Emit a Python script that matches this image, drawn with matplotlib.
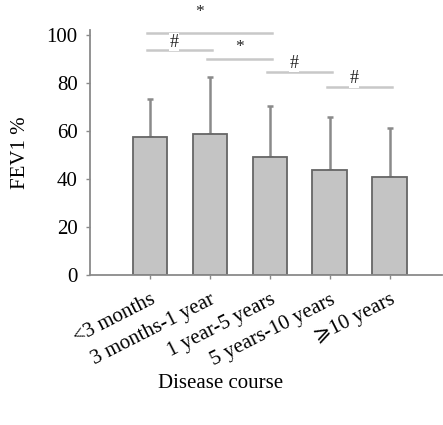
import matplotlib
matplotlib.use('Agg')
import matplotlib.pyplot as plt

# data
categories = ['<3 months', '3 months-1 year', '1 year-5 years',
              '5 years-10 years', '\u2a7e10 years']
fev1_mean = [57.6, 58.8, 49.3, 43.8, 41.0]
fev1_sd = [15.7, 23.5, 21.1, 21.8, 20.1]
yticks = [0, 20, 40, 60, 80, 100]

# significance brackets: (left bar, right bar, line height, marker)
sig_pairs = [(0, 2, 100.7, '*'), (0, 1, 93.5, '#'), (1, 2, 89.9, '*'),
             (2, 3, 84.7, '#'), (3, 4, 78.2, '#')]

plt.rcParams['font.family'] = ['Liberation Serif', 'DejaVu Sans']

fig = plt.figure(figsize=(4.43, 4.25), dpi=100)
ax = fig.add_axes([90 / 443, 150 / 425, 352 / 443, 245 / 425])

axis_col = '#8a8a8a'
x = list(range(len(categories)))
ax.bar(x, fev1_mean, width=0.58, color='#c4c4c4', edgecolor='#666666',
       linewidth=1.3, zorder=2)
ax.errorbar(x, fev1_mean, yerr=[[0] * len(x), fev1_sd], fmt='none',
            ecolor='#8a8a8a', elinewidth=1.8, capsize=2.5, capthick=1.8,
            zorder=1)

for i, j, h, mark in sig_pairs:
    ax.plot([i - 0.05, j + 0.03], [h, h], color='#c8c8c8', lw=1.8,
            clip_on=False, zorder=3)
    if (i, j) == (0, 2):
        xm, off = 0.82, 9.0
    elif mark == '*':
        xm, off = (i + j) / 2, 5.0
    else:
        xm, off = (i + j) / 2 - 0.1, 3.5
    ax.text(xm, h + off, mark, ha='center', va='center',
            fontsize=13 if mark == '#' else 12.5,
            color='#222222', clip_on=False, zorder=4,
            bbox=dict(facecolor='white', edgecolor='none', pad=0.5))

ax.set_xlim(-1, 4.87)
ax.set_ylim(0, 102)
ax.set_yticks(yticks)
ax.tick_params(axis='y', labelsize=15, length=3, width=1, color=axis_col,
               pad=6)
ax.set_xticks(x)
ax.set_xticklabels(categories, rotation=27, ha='right',
                   rotation_mode='anchor', fontsize=15)
ax.tick_params(axis='x', length=3, width=1, color=axis_col, pad=8,
               direction='out')

for side in ['top', 'right']:
    ax.spines[side].set_visible(False)
for side in ['left', 'bottom']:
    ax.spines[side].set_color(axis_col)
    ax.spines[side].set_linewidth(1.3)

ax.set_ylabel('FEV1 %', fontsize=15, labelpad=12)
fig.text(221 / 443, 1 - 383 / 425, 'Disease course', ha='center',
         va='center', fontsize=15)

fig.savefig('out.png', dpi=100)
